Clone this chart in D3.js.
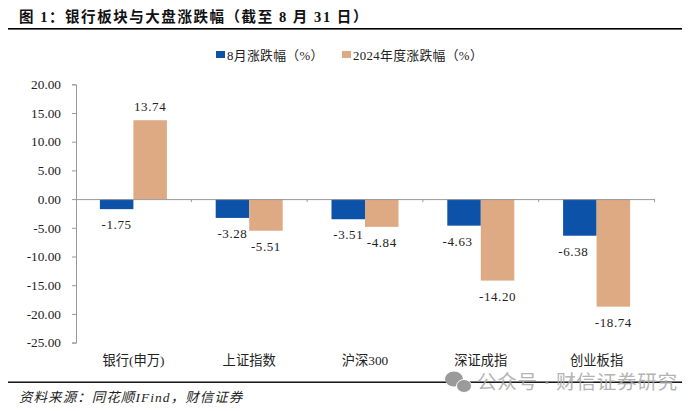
<!DOCTYPE html>
<html><head><meta charset="utf-8">
<script src="https://cdn.jsdelivr.net/npm/d3@7"></script>
<style>
html,body{margin:0;padding:0;background:#fff}
svg{display:block}
text{font-family:"Liberation Serif","Noto Sans CJK SC",serif;fill:#222}
</style></head><body><svg id="c" width="700" height="411"></svg>
<script>
const categories=["银行(申万)","上证指数","沪深300","深证成指","创业板指"];
const seriesNames=["8月涨跌幅（%）","2024年度涨跌幅（%）"];
const augChange=[-1.75,-3.28,-3.51,-4.63,-6.38];
const ytdChange=[13.74,-5.51,-4.84,-14.20,-18.74];
const colors=["#0C52A8","#DDAA84"];
const yTicks=[20,15,10,5,0,-5,-10,-15,-20,-25];
const titleText="图 1：银行板块与大盘涨跌幅（截至 8 月 31 日）";
const sourceText="资料来源：同花顺IFind，财信证券";
const watermark="公众号 · 财信证券研究";

const fmt=v=>d3.format(".2f")(v).replace("\u2212","-");
const svg=d3.select("#c");
const y=d3.scaleLinear().domain([-25,20]).range([342.6,84.3]);
const x0=d3.scaleBand().domain(categories).range([75.5,654.5]);
const x1=d3.scaleBand().domain([0,1]).range([0,67]);
const pad=(x0.bandwidth()-67)/2;

svg.append("text").attr("x",19).attr("y",22).attr("font-size",14.5).attr("font-weight",700)
  .attr("letter-spacing",1.55).style("fill","#111").text(titleText);
svg.append("rect").attr("x",8).attr("y",28).attr("width",674).attr("height",1.6).attr("fill","#000");
svg.append("rect").attr("x",8).attr("y",381.5).attr("width",674).attr("height",1.4).attr("fill","#000");
svg.append("text").attr("x",19).attr("y",402).attr("font-size",13.5).attr("font-style","italic")
  .attr("letter-spacing",1.05).text(sourceText);

// legend
[[216,227,0],[342,353,1]].forEach(([bx,tx,i])=>{
  svg.append("rect").attr("x",bx).attr("y",51).attr("width",9).attr("height",7).attr("fill",colors[i]);
  svg.append("text").attr("x",tx).attr("y",60).attr("font-size",12.8).attr("letter-spacing",0.35).text(seriesNames[i]);
});

// bars + labels
[augChange,ytdChange].forEach((vals,s)=>{
  categories.forEach((c,i)=>{
    const v=vals[i],bx=x0(c)+pad+x1(s),w=x1.bandwidth();
    svg.append("rect").attr("x",bx).attr("y",Math.min(y(0),y(v))).attr("width",w)
      .attr("height",Math.abs(y(v)-y(0))).attr("fill",colors[s]);
    const base=v>=0?y(v)-9:y(v)+20;
    // a blue label slides left when the taller neighbouring bar would cover it
    const dodge=(s===0&&y(ytdChange[i])>base)?-6.5:0;
    svg.append("text").attr("x",bx+w/2+dodge).attr("y",base).attr("text-anchor","middle")
      .attr("font-size",13).attr("letter-spacing",0.6).text(fmt(v));
  });
});

// axes
const axisY=d3.axisLeft(y).tickValues(yTicks).tickSize(4).tickPadding(11).tickFormat(fmt);
const gy=svg.append("g").attr("transform","translate(76,0)").call(axisY);
gy.selectAll("path,line").attr("stroke","#999").attr("stroke-width",1);
gy.selectAll("text").attr("font-size",13.3).style("fill","#222").attr("font-family",'"Liberation Serif"');
const axisX=d3.axisBottom(x0).tickSize(0).tickFormat("");
const gx=svg.append("g").attr("transform",`translate(0,${y(0)})`).call(axisX);
gx.select("path").attr("stroke","#999").attr("stroke-width",1);
categories.forEach(c=>{
  const tx=x0(c)+x0.bandwidth();
  gx.append("line").attr("x1",tx).attr("x2",tx).attr("y1",0).attr("y2",3).attr("stroke","#999");
});

// category labels
categories.forEach(c=>{
  svg.append("text").attr("x",x0(c)+x0.bandwidth()/2).attr("y",365).attr("text-anchor","middle")
    .attr("font-size",13.3).text(c);
});

// watermark
const wm=svg.append("g").attr("fill","#9a9a9a");
wm.append("ellipse").attr("cx",454).attr("cy",379).attr("rx",9).attr("ry",7.5);
wm.append("ellipse").attr("cx",464).attr("cy",386).attr("rx",7.5).attr("ry",6.5).attr("stroke","#fff").attr("stroke-width",1);
svg.append("text").attr("x",477).attr("y",389).attr("font-size",19.7).attr("letter-spacing",0.6)
  .attr("font-family",'"Noto Sans CJK SC"').style("fill","#a8a8a8").style("opacity",0.85).text(watermark);
</script></body></html>
